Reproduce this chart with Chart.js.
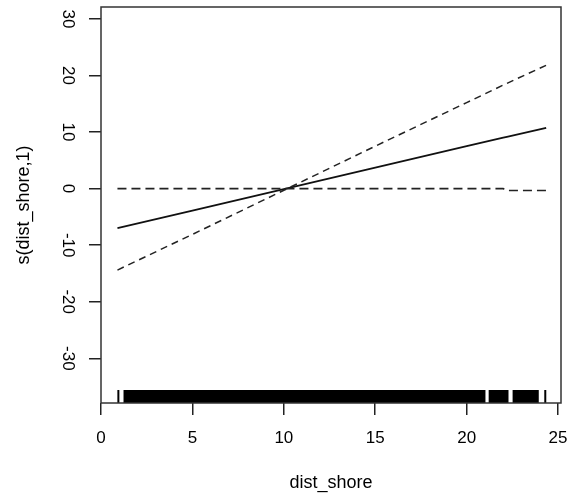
<!DOCTYPE html>
<html>
<head>
<meta charset="utf-8">
<script src="https://cdn.jsdelivr.net/npm/chart.js@4/dist/chart.umd.min.js"></script>
<style>
  body { margin: 0; background: #fff; }
  canvas { display: block; }
</style>
</head>
<body>
<canvas id="myChart" width="575" height="498"></canvas>
<script>
// values
const xs = [0.9, 5, 10, 15, 20, 22, 22.2, 24.35];
const fitVals = [-7.0, -3.9, -0.1, 3.7, 7.5, 9.0, 9.15, 10.75];
const upperVals = [-14.4, -8.1, -0.3, 7.5, 15.2, 18.3, 18.6, 21.8];
const lowerVals = [0, 0, 0, 0, 0, 0, -0.35, -0.35];

// rug along the bottom: solid runs and single ticks
const rugRuns = [[1.22, 21.04], [21.19, 22.3], [22.5, 23.95]];
const rugSingles = [0.95, 24.3];
const rugTop = -35.6;

const xTicks = [0, 5, 10, 15, 20, 25];
const yTicks = [-30, -20, -10, 0, 10, 20, 30];
const xMin = 0, xMax = 25.16;
const yMin = -37.9, yMax = 32.1;

const FONT = 'Liberation Sans, Arial, sans-serif';

const toPts = (vals) => xs.map((x, i) => ({ x: x, y: vals[i] }));

const datasets = [];

rugRuns.forEach(r => {
  datasets.push({
    data: [{ x: r[0], y: rugTop }, { x: r[1], y: rugTop }],
    borderWidth: 0,
    borderColor: '#000',
    backgroundColor: '#000',
    fill: 'start',
    pointRadius: 0
  });
});

rugSingles.forEach(v => {
  datasets.push({
    data: [{ x: v, y: yMin }, { x: v, y: rugTop }],
    borderWidth: 2,
    borderColor: '#000',
    pointRadius: 0,
    fill: false
  });
});

datasets.push({
  data: toPts(upperVals),
  borderColor: '#222',
  borderWidth: 1.5,
  borderDash: [7, 5],
  pointRadius: 0,
  fill: false
});
datasets.push({
  data: toPts(lowerVals),
  borderColor: '#222',
  borderWidth: 1.6,
  borderDash: [9, 5],
  pointRadius: 0,
  fill: false
});
datasets.push({
  data: toPts(fitVals),
  borderColor: '#111',
  borderWidth: 1.8,
  pointRadius: 0,
  fill: false
});

// frame around the plot region
const boxPlugin = {
  id: 'box',
  afterDraw(chart) {
    const a = chart.chartArea;
    const c = chart.ctx;
    c.save();
    c.strokeStyle = '#333';
    c.lineWidth = 1.5;
    c.strokeRect(a.left, a.top, a.right - a.left, a.bottom - a.top);
    c.restore();
  }
};

const ctx = document.getElementById('myChart').getContext('2d');
const myChart = new Chart(ctx, {
  type: 'line',
  data: { datasets: datasets },
  plugins: [boxPlugin],
  options: {
    responsive: false,
    animation: false,
    layout: { padding: { top: 7, right: 14, left: 0, bottom: 0 } },
    plugins: {
      legend: { display: false },
      tooltip: { enabled: false }
    },
    elements: { line: { tension: 0 } },
    scales: {
      x: {
        type: 'linear',
        min: xMin,
        max: xMax,
        afterBuildTicks: (scale) => { scale.ticks = xTicks.map(v => ({ value: v })); },
        afterFit: (scale) => {
          scale.height = 95;
          scale.paddingLeft = 0;
          scale.paddingRight = 0;
        },
        grid: {
          drawOnChartArea: false,
          drawTicks: true,
          tickLength: 12,
          tickColor: '#222',
          lineWidth: 1.5
        },
        border: { display: false },
        ticks: {
          color: '#000',
          font: { family: FONT, size: 17 },
          padding: 13,
          maxRotation: 0,
          autoSkip: false
        },
        title: {
          display: true,
          text: 'dist_shore',
          color: '#000',
          font: { family: FONT, size: 18 },
          padding: { top: 0, bottom: 4 }
        }
      },
      y: {
        type: 'linear',
        min: yMin,
        max: yMax,
        afterBuildTicks: (scale) => { scale.ticks = yTicks.map(v => ({ value: v })); },
        afterFit: (scale) => {
          scale.width = 101;
          scale.paddingTop = 0;
          scale.paddingBottom = 0;
        },
        grid: {
          drawOnChartArea: false,
          drawTicks: true,
          tickLength: 12,
          tickColor: '#222',
          lineWidth: 1.5
        },
        border: { display: false },
        ticks: {
          color: '#000',
          font: { family: FONT, size: 17 },
          padding: 9,
          minRotation: -90,
          maxRotation: -90,
          crossAlign: 'center',
          autoSkip: false
        },
        title: {
          display: true,
          text: 's(dist_shore,1)',
          color: '#000',
          font: { family: FONT, size: 18 },
          padding: 13
        }
      }
    }
  }
});
</script>
</body>
</html>
